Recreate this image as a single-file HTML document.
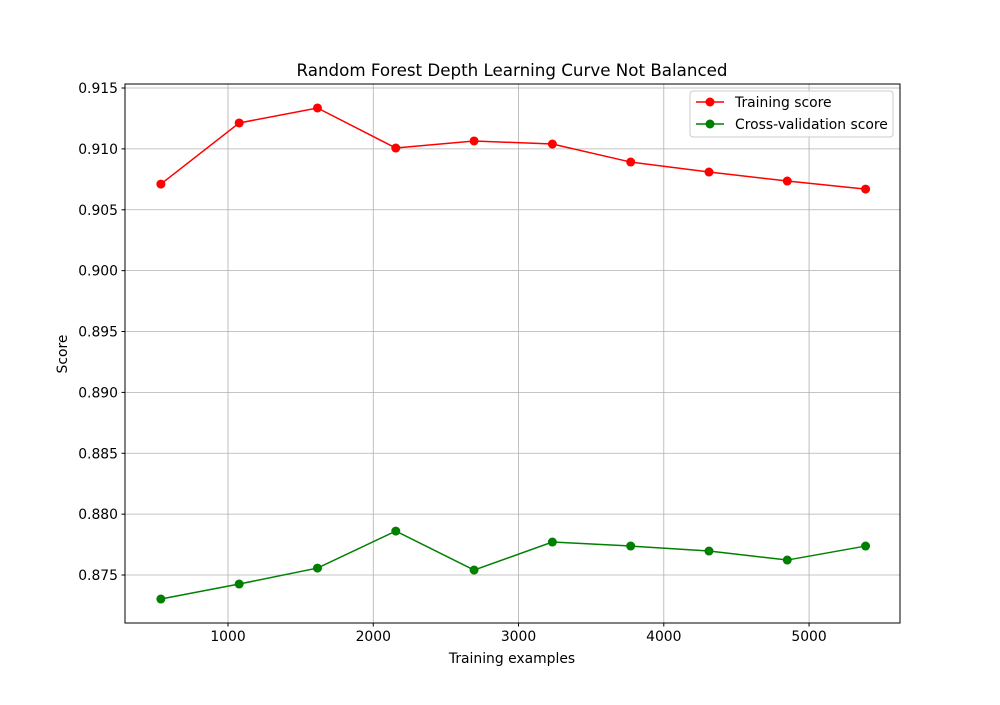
<!DOCTYPE html>
<html><head><meta charset="utf-8"><style>
body{margin:0;background:#fff;}
svg text{font-family:"DejaVu Sans","Liberation Sans",sans-serif;fill:#000;}
</style></head><body>
<svg id="chart" width="1000" height="700" xmlns="http://www.w3.org/2000/svg">
<rect width="1000" height="700" fill="#fff"/>
<g id="grid"></g>
<g id="series"></g>
<rect x="125" y="84" width="775" height="539" fill="none" stroke="#000" stroke-width="1"/>
<g id="ticks"></g>
<text x="512" y="76" font-size="16.7" text-anchor="middle">Random Forest Depth Learning Curve Not Balanced</text>
<text x="512" y="663" font-size="13.9" text-anchor="middle">Training examples</text>
<text x="67" y="354" font-size="13.9" text-anchor="middle" transform="rotate(-90 67 354)">Score</text>
<g>
<rect x="690" y="91" width="203" height="46" rx="3" fill="#fff" fill-opacity="0.8" stroke="#ccc"/>
<g>
<line x1="696" y1="102" x2="724" y2="102" stroke="red" stroke-width="1.5"/><circle cx="710" cy="102" r="4.5" fill="red"/>
<text x="735" y="107" font-size="13.9">Training score</text></g>
<g>
<line x1="696" y1="124" x2="724" y2="124" stroke="green" stroke-width="1.5"/><circle cx="710" cy="124" r="4.5" fill="green"/>
<text x="735" y="129" font-size="13.9">Cross-validation score</text></g>
</g>
</svg>
<script>
const trainSizes=[538,1077,1616,2155,2694,3233,3772,4311,4850,5389];
const trainScores=[0.90711,0.91213,0.91336,0.91007,0.91065,0.91040,0.90892,0.90810,0.90736,0.90670];
const cvScores=[0.87303,0.87426,0.87557,0.87861,0.87541,0.87771,0.87738,0.87697,0.87623,0.87738];
const xTicks=[1000,2000,3000,4000,5000];
const yTicks=[0.875,0.880,0.885,0.890,0.895,0.900,0.905,0.910,0.915];
const X0=125,X1=900,Y0=84,Y1=623,xmin=291,xmax=5626,ymin=0.87106,ymax=0.91533;
const sx=v=>X0+(v-xmin)/(xmax-xmin)*(X1-X0);
const sy=v=>Y1-(v-ymin)/(ymax-ymin)*(Y1-Y0);
const NS="http://www.w3.org/2000/svg";
function mk(tag,attrs,parent){const e=document.createElementNS(NS,tag);for(const k in attrs)e.setAttribute(k,attrs[k]);parent.appendChild(e);return e;}
const grid=document.getElementById('grid'),ticks=document.getElementById('ticks'),series=document.getElementById('series');
xTicks.forEach(t=>{const x=sx(t);
 const g=mk('line',{x1:x,x2:x,y1:Y0,y2:Y1,stroke:'#b0b0b0','stroke-width':0.8},grid);
 
 
 mk('line',{x1:x,x2:x,y1:Y1,y2:Y1+3.5,stroke:'#000'},ticks);
 const l=mk('text',{x:x,y:Y1+18,'font-size':13.9,'text-anchor':'middle'},ticks);l.textContent=t;
 
 });
yTicks.forEach(t=>{const y=sy(t);
 const g=mk('line',{x1:X0,x2:X1,y1:y,y2:y,stroke:'#b0b0b0','stroke-width':0.8},grid);
 
 
 mk('line',{x1:X0-3.5,x2:X0,y1:y,y2:y,stroke:'#000'},ticks);
 const l=mk('text',{x:X0-7,y:y+5,'font-size':13.9,'text-anchor':'end'},ticks);l.textContent=t.toFixed(3);
 
 });
function draw(vals,color,name){
 const p=mk('polyline',{points:trainSizes.map((s,i)=>sx(s)+','+sy(vals[i])).join(' '),fill:'none',stroke:color,'stroke-width':1.5},series);
 
 
 vals.forEach((v,i)=>{const c=mk('circle',{cx:sx(trainSizes[i]),cy:sy(v),r:4.5,fill:color},series);
  
  });
}
draw(trainScores,'red','training-score');
draw(cvScores,'green','cv-score');
</script>
</body></html>
